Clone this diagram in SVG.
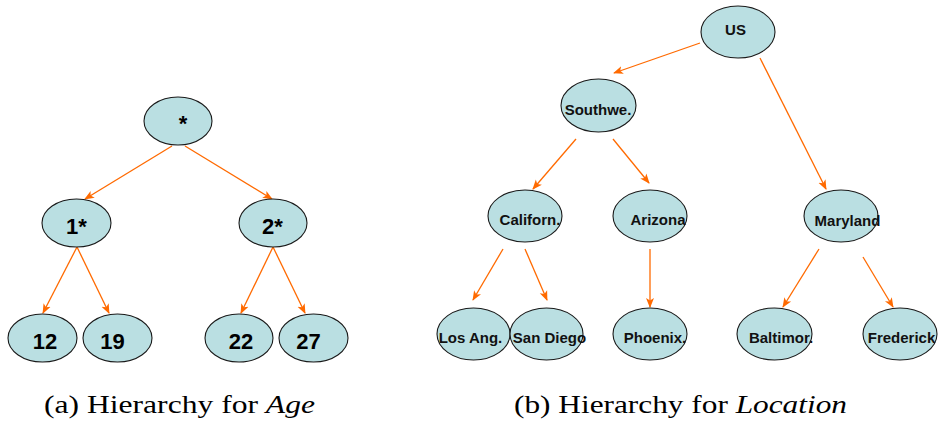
<svg xmlns="http://www.w3.org/2000/svg" width="938" height="427" viewBox="0 0 938 427">
  <style>
    .node ellipse { fill: #badfe2; stroke: #1a1a1a; stroke-width: 1.1; }
    .age text { font-family: "Liberation Sans", Arial, sans-serif; font-weight: bold; font-size: 22px; fill: #000; text-anchor: middle; }
    .loc text { font-family: "Liberation Sans", Arial, sans-serif; font-weight: bold; font-size: 15px; fill: #111; text-anchor: middle; }
    .edges line { stroke: #ff6a00; stroke-width: 1.3; marker-end: url(#arrow); }
    .caption { font-family: "Liberation Serif", "Times New Roman", serif; font-size: 26px; fill: #000; }
    .caption .it { font-style: italic; }
  </style>
  <defs>
    <marker id="arrow" markerUnits="userSpaceOnUse" markerWidth="10" markerHeight="10" viewBox="0 0 10 10" refX="9" refY="5" orient="auto">
      <path d="M0,1 L10,5 L0,9 L2.5,5 Z" fill="#ff6a00"/>
    </marker>
  </defs>

  <rect width="938" height="427" fill="#ffffff"/>

  <!-- connectors -->
  <g id="connectors" class="edges">
    <!-- age hierarchy -->
    <line x1="172" y1="146" x2="85" y2="199"/>
    <line x1="185" y1="146" x2="272" y2="199"/>
    <line x1="77" y1="247" x2="43" y2="313"/>
    <line x1="77" y1="247" x2="109" y2="313"/>
    <line x1="273" y1="247" x2="241" y2="313"/>
    <line x1="273" y1="247" x2="305" y2="313"/>
    <!-- location hierarchy -->
    <line x1="700" y1="43" x2="614" y2="73"/>
    <line x1="760" y1="58" x2="826" y2="189"/>
    <line x1="576" y1="139" x2="533" y2="189"/>
    <line x1="613" y1="139" x2="649" y2="183"/>
    <line x1="503" y1="249" x2="473" y2="300"/>
    <line x1="525" y1="249" x2="547" y2="300"/>
    <line x1="650" y1="249" x2="650" y2="307"/>
    <line x1="819" y1="249" x2="783" y2="307"/>
    <line x1="863" y1="257" x2="893" y2="307"/>
  </g>

  <!-- age hierarchy nodes -->
  <g class="age">
    <g id="age-all" class="node"><ellipse cx="178" cy="121" rx="34" ry="24"/><text x="183" y="131">*</text></g>
    <g id="age-1x" class="node"><ellipse cx="76.5" cy="223" rx="34.5" ry="24"/><text x="76.5" y="234">1*</text></g>
    <g id="age-2x" class="node"><ellipse cx="273" cy="223" rx="34" ry="24"/><text x="272.5" y="234">2*</text></g>
    <g id="age-12" class="node"><ellipse cx="42.5" cy="338" rx="34.5" ry="24"/><text x="45" y="349">12</text></g>
    <g id="age-19" class="node"><ellipse cx="117.5" cy="338" rx="34.5" ry="24"/><text x="112.5" y="349">19</text></g>
    <g id="age-22" class="node"><ellipse cx="239" cy="338" rx="34" ry="24"/><text x="241" y="349">22</text></g>
    <g id="age-27" class="node"><ellipse cx="313.5" cy="338" rx="34.5" ry="24"/><text x="308.5" y="349">27</text></g>
  </g>

  <!-- location hierarchy nodes -->
  <g class="loc">
    <g id="loc-us" class="node"><ellipse cx="738" cy="32" rx="37" ry="26"/><text x="735.5" y="35">US</text></g>
    <g id="loc-southwest" class="node"><ellipse cx="598.5" cy="105.5" rx="37.5" ry="26.5"/><text x="598" y="115">Southwe.</text></g>
    <g id="loc-california" class="node"><ellipse cx="525" cy="216" rx="37" ry="26"/><text x="530" y="225">Californ.</text></g>
    <g id="loc-arizona" class="node"><ellipse cx="650" cy="216" rx="37" ry="26"/><text x="658" y="225">Arizona</text></g>
    <g id="loc-maryland" class="node"><ellipse cx="841" cy="216" rx="37" ry="26"/><text x="847.5" y="226">Maryland</text></g>
    <g id="loc-losangeles" class="node"><ellipse cx="473.5" cy="334" rx="36.5" ry="26"/><text x="470.5" y="343">Los Ang.</text></g>
    <g id="loc-sandiego" class="node"><ellipse cx="546.5" cy="334" rx="36.5" ry="26"/><text x="549.5" y="343">San Diego</text></g>
    <g id="loc-phoenix" class="node"><ellipse cx="650" cy="334" rx="37" ry="26"/><text x="655" y="343">Phoenix.</text></g>
    <g id="loc-baltimore" class="node"><ellipse cx="774.5" cy="334" rx="37.5" ry="26"/><text x="781" y="343">Baltimor.</text></g>
    <g id="loc-frederick" class="node"><ellipse cx="900" cy="334" rx="37" ry="26"/><text x="901.5" y="343">Frederick</text></g>
  </g>

  <!-- captions -->
  <text class="caption" x="44" y="413" textLength="271" lengthAdjust="spacingAndGlyphs">(a) Hierarchy for <tspan class="it">Age</tspan></text>
  <text class="caption" x="514" y="413" textLength="333" lengthAdjust="spacingAndGlyphs">(b) Hierarchy for <tspan class="it">Location</tspan></text>
</svg>
